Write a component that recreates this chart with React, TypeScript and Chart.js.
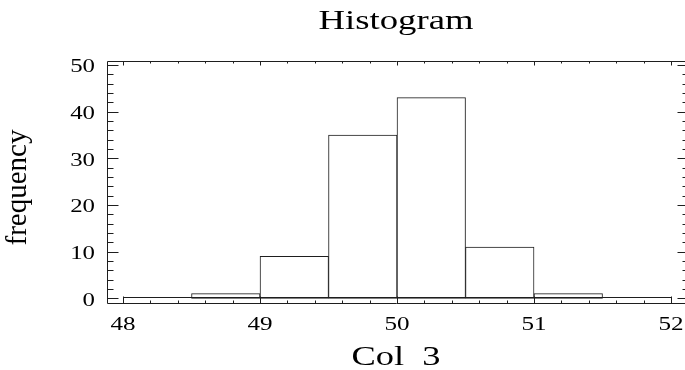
import React, { useEffect, useRef } from "react";
import { Chart, registerables } from "chart.js";

Chart.register(...registerables);

// ---- data ----
const binCenters = [48.25, 48.75, 49.25, 49.75, 50.25, 50.75, 51.25, 51.75];
const frequencies = [0, 1, 9, 35, 43, 11, 1, 0];
const binWidth = 0.5;
const xTickValues = [48, 49, 50, 51, 52];
const yTickValues = [0, 10, 20, 30, 40, 50];
const xMinorStep = 0.2;
const yMinorStep = 2;
const titleText = "Histogram";
const xTitle = "Col  3";
const yTitle = "frequency";

const FONT = '"Liberation Serif", "Times New Roman", serif';
const INK = "#1e1e1e";

function stretchedText(
  ctx: CanvasRenderingContext2D,
  text: string,
  x: number,
  y: number,
  size: number,
  sx: number,
  align: "left" | "center" | "right"
) {
  ctx.save();
  ctx.font = `${size}px ${FONT}`;
  ctx.textBaseline = "alphabetic";
  ctx.textAlign = "left";
  const w = ctx.measureText(text).width * sx;
  const left = align === "center" ? x - w / 2 : align === "right" ? x - w : x;
  ctx.translate(left, y);
  ctx.scale(sx, 1);
  ctx.fillStyle = "#000";
  ctx.fillText(text, 0, 0);
  ctx.restore();
}

const framePlugin = {
  id: "framePlugin",
  afterDraw(chart: any) {
    const ctx: CanvasRenderingContext2D = chart.ctx;
    const xs = chart.scales.x;
    const ys = chart.scales.y;
    const a = chart.chartArea;
    ctx.save();
    ctx.strokeStyle = INK;
    ctx.lineWidth = 1;

    // zero baseline across all bins
    const y0 = Math.round(ys.getPixelForValue(0)) - 0.5;
    const bx0 = xs.getPixelForValue(binCenters[0] - binWidth / 2);
    const bx1 = xs.getPixelForValue(binCenters[binCenters.length - 1] + binWidth / 2);
    ctx.beginPath();
    ctx.moveTo(bx0, y0);
    ctx.lineTo(bx1, y0);
    ctx.stroke();

    // frame
    const L = Math.round(a.left) + 0.5;
    const T = Math.round(a.top) + 0.5;
    const B = Math.round(a.bottom) - 0.5;
    const R = Math.round(a.right) + 0.5;
    ctx.beginPath();
    ctx.moveTo(R, T);
    ctx.lineTo(L, T);
    ctx.lineTo(L, B);
    ctx.lineTo(R, B);
    ctx.stroke();

    // x ticks (bottom and top, inward)
    const xFirst = xTickValues[0];
    const xLast = xTickValues[xTickValues.length - 1];
    const nx = Math.round((xLast - xFirst) / xMinorStep);
    ctx.beginPath();
    for (let i = 0; i <= nx; i++) {
      const v = xFirst + i * xMinorStep;
      const major = Math.abs(v - Math.round(v)) < 1e-6;
      const px = Math.round(xs.getPixelForValue(v)) + 0.5;
      ctx.moveTo(px, B);
      ctx.lineTo(px, B - (major ? 7 : 3));
      ctx.moveTo(px, T);
      ctx.lineTo(px, T + (major ? 4 : 2));
    }
    // y ticks (left and right, inward)
    const yFirst = yTickValues[0];
    const yLast = yTickValues[yTickValues.length - 1];
    const ny = Math.round((yLast - yFirst) / yMinorStep);
    for (let i = 0; i <= ny; i++) {
      const v = yFirst + i * yMinorStep;
      const major = yTickValues.includes(v);
      const py = Math.round(ys.getPixelForValue(v)) + 0.5;
      ctx.moveTo(L, py);
      ctx.lineTo(L + (major ? 11 : 6), py);
      ctx.moveTo(R, py);
      ctx.lineTo(R - (major ? 8 : 3), py);
    }
    ctx.stroke();
    ctx.restore();

    // tick labels
    for (const v of yTickValues) {
      const py = ys.getPixelForValue(v);
      stretchedText(ctx, String(v), 95, py + 7.5, 18, 1.38, "right");
    }
    for (const v of xTickValues) {
      const px = xs.getPixelForValue(v);
      stretchedText(ctx, String(v), px, 330, 19, 1.32, "center");
    }

    // titles
    const cx = (a.left + a.right) / 2;
    stretchedText(ctx, titleText, cx, 29, 27, 1.36, "center");
    stretchedText(ctx, xTitle, cx, 365, 27, 1.35, "center");

    ctx.save();
    ctx.translate(26, 187.5);
    ctx.rotate(-Math.PI / 2);
    ctx.font = `29px ${FONT}`;
    ctx.textAlign = "center";
    ctx.textBaseline = "alphabetic";
    ctx.fillStyle = "#000";
    ctx.fillText(yTitle, 0, 0);
    ctx.restore();
  },
};

export default function App() {
  const canvasRef = useRef<HTMLCanvasElement | null>(null);

  useEffect(() => {
    const canvas = canvasRef.current;
    if (!canvas) return;
    const chart = new Chart(canvas, {
      type: "bar",
      data: {
        datasets: [
          {
            data: binCenters.map((x, i) => ({ x, y: frequencies[i] })),
            backgroundColor: "#ffffff",
            borderColor: INK,
            borderWidth: 1,
            borderSkipped: false,
            barPercentage: 1,
            categoryPercentage: 1,
          } as any,
        ],
      },
      options: {
        responsive: false,
        animation: false,
        layout: { padding: { top: 61, left: 0, right: 0, bottom: 0 } },
        plugins: {
          legend: { display: false },
          tooltip: { enabled: false },
          title: { display: false },
        },
        scales: {
          x: {
            type: "linear",
            offset: false,
            min: 47.883,
            max: 52.102,
            ticks: { display: false },
            grid: { display: false, offset: false },
            border: { display: false },
            afterBuildTicks: (s: any) => {
              s.ticks = xTickValues.map((v) => ({ value: v }));
            },
            afterFit: (s: any) => {
              s.height = 66;
            },
          },
          y: {
            type: "linear",
            min: -1.22,
            max: 50.857,
            ticks: { display: false },
            grid: { display: false },
            border: { display: false },
            afterBuildTicks: (s: any) => {
              s.ticks = yTickValues.map((v) => ({ value: v }));
            },
            afterFit: (s: any) => {
              s.width = 107;
            },
          },
        },
      } as any,
      plugins: [framePlugin],
    });
    return () => chart.destroy();
  }, []);

  return (
    <div style={{ position: "absolute", left: 0, top: 0, width: 685, height: 370, background: "#fff" }}>
      <canvas ref={canvasRef} width={685} height={370} style={{ display: "block" }} />
    </div>
  );
}
